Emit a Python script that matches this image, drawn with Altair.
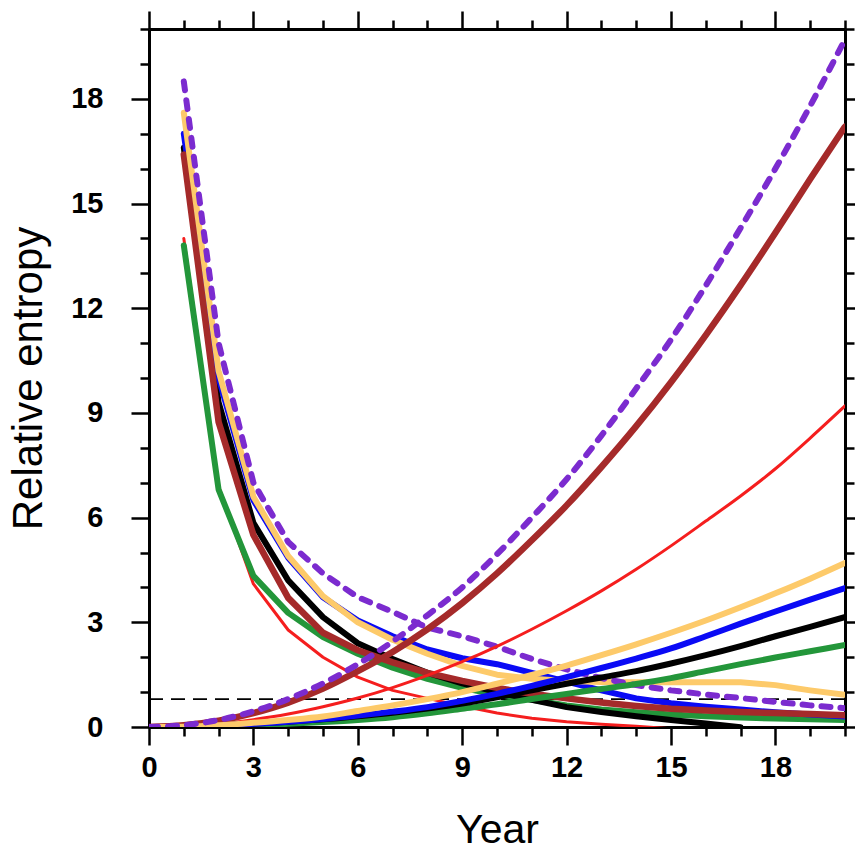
import altair as alt
import pandas as pd

years = list(range(21))

# Decreasing curves (no value at year 0)
dec_red    = [None, 14.0, 6.9, 4.1, 2.78, 2.0, 1.43, 1.05, 0.82, 0.6, 0.4, 0.25, 0.15, 0.08, 0.02, -0.05, None, None, None, None, None]
dec_green  = [None, 13.8, 6.8, 4.33, 3.27, 2.58, 2.1, 1.7, 1.38, 1.12, 0.92, 0.78, 0.62, 0.5, 0.42, 0.36, 0.31, 0.27, 0.24, 0.22, 0.2]
dec_black  = [None, 16.6, 9.3, 5.85, 4.2, 3.15, 2.4, 1.95, 1.55, 1.25, 1.0, 0.78, 0.57, 0.43, 0.31, 0.2, 0.1, -0.01, None, None, None]
dec_blue   = [None, 17.0, 10.0, 6.5, 4.85, 3.72, 3.05, 2.6, 2.22, 1.97, 1.8, 1.55, 1.3, 1.05, 0.82, 0.68, 0.58, 0.5, 0.42, 0.36, 0.3]
dec_brown  = [None, 16.4, 8.74, 5.5, 3.7, 2.7, 2.2, 1.85, 1.55, 1.32, 1.12, 0.95, 0.82, 0.7, 0.6, 0.52, 0.47, 0.43, 0.4, 0.37, 0.34]
dec_orange = [None, 17.6, 10.2, 6.6, 4.9, 3.75, 3.0, 2.5, 2.1, 1.75, 1.5, 1.38, 1.32, 1.29, 1.28, 1.28, 1.28, 1.28, 1.2, 1.05, 0.92]
dec_purple = [None, 18.5, 11.0, 7.0, 5.3, 4.4, 3.72, 3.3, 2.85, 2.6, 2.3, 1.95, 1.65, 1.4, 1.2, 1.05, 0.93, 0.83, 0.72, 0.62, 0.54]

# Increasing curves (from year 0)
inc_red    = [0, 0.02, 0.09, 0.21, 0.37, 0.58, 0.83, 1.13, 1.48, 1.87, 2.31, 2.8, 3.33, 3.9, 4.52, 5.19, 5.9, 6.62, 7.4, 8.28, 9.2]
inc_green  = [0, 0.0, 0.02, 0.05, 0.09, 0.14, 0.2, 0.28, 0.39, 0.52, 0.65, 0.8, 0.95, 1.09, 1.23, 1.4, 1.6, 1.8, 1.99, 2.17, 2.35]
inc_black  = [0, 0.01, 0.04, 0.09, 0.15, 0.22, 0.31, 0.41, 0.53, 0.67, 0.85, 1.05, 1.24, 1.42, 1.6, 1.82, 2.06, 2.32, 2.6, 2.87, 3.15]
inc_blue   = [0, 0.01, 0.04, 0.09, 0.15, 0.23, 0.33, 0.44, 0.57, 0.75, 0.95, 1.18, 1.43, 1.69, 1.96, 2.25, 2.6, 2.96, 3.31, 3.65, 3.98]
inc_brown  = [0, 0.05, 0.18, 0.4, 0.7, 1.1, 1.6, 2.15, 2.8, 3.55, 4.4, 5.35, 6.35, 7.45, 8.62, 9.88, 11.23, 12.66, 14.16, 15.7, 17.2]
inc_orange = [0, 0.01, 0.05, 0.12, 0.2, 0.3, 0.46, 0.62, 0.8, 1.0, 1.24, 1.49, 1.76, 2.06, 2.37, 2.7, 3.05, 3.43, 3.83, 4.25, 4.7]
inc_purple = [0, 0.05, 0.2, 0.45, 0.8, 1.25, 1.8, 2.45, 3.2, 4.0, 4.95, 6.0, 7.1, 8.35, 9.7, 11.1, 12.65, 14.3, 16.0, 17.8, 19.7]

threshold = [0.8]

styles = {
    "red":    dict(color="#F51E1E", strokeWidth=3),
    "green":  dict(color="#23963A", strokeWidth=6),
    "black":  dict(color="#000000", strokeWidth=6),
    "blue":   dict(color="#0A0AF5", strokeWidth=6),
    "brown":  dict(color="#A52A2A", strokeWidth=6.5),
    "orange": dict(color="#FDCA6A", strokeWidth=6),
    "purple": dict(color="#7B2BCF", strokeWidth=6, strokeDash=[9, 10]),
}

dec_series = [("red", dec_red), ("green", dec_green), ("black", dec_black), ("blue", dec_blue),
              ("brown", dec_brown), ("orange", dec_orange), ("purple", dec_purple)]
inc_series = [("red", inc_red), ("green", inc_green), ("black", inc_black), ("blue", inc_blue),
              ("brown", inc_brown), ("orange", inc_orange), ("purple", inc_purple)]

xscale = alt.Scale(domain=[0, 20], nice=False, zero=False)
yscale = alt.Scale(domain=[0, 20], nice=False, zero=False)

FONT = "Liberation Sans"
tick_cond = {"condition": {"test": "datum.value % 3 === 0", "value": 18}, "value": 9}
label_expr = "datum.value % 3 === 0 ? datum.label : ''"

common_axis = dict(
    values=list(range(0, 21)),
    domainColor="black", domainWidth=3,
    tickColor="black", tickWidth=2.5,
    grid=False, labelFlush=False, labelOverlap=False,
    labelFont=FONT, labelFontSize=29, labelFontWeight="bold", labelColor="black",
    titleFont=FONT, titleFontWeight="normal", titleColor="black",
)

x_bottom = alt.Axis(orient="bottom", title="Year", titleFontSize=41, labelExpr=label_expr,
                    tickSize=tick_cond, labelPadding=8, titlePadding=28, **common_axis)
y_left = alt.Axis(orient="left", title="Relative entropy", titleFontSize=42, labelExpr=label_expr,
                  tickSize=tick_cond, labelPadding=28, titlePadding=20, **common_axis)
x_top = alt.Axis(orient="top", title=None, labels=False, tickSize=tick_cond, **common_axis)
y_right = alt.Axis(orient="right", title=None, labels=False, tickSize=tick_cond, **common_axis)


def df_of(values):
    d = pd.DataFrame({"Year": years, "RE": values})
    return d.dropna()


axes_main = alt.Chart(df_of(inc_green)).mark_line(opacity=0).encode(
    x=alt.X("Year:Q", scale=xscale, axis=x_bottom),
    y=alt.Y("RE:Q", scale=yscale, axis=y_left),
)
axes_frame = alt.Chart(df_of(inc_green)).mark_line(opacity=0).encode(
    x=alt.X("Year:Q", scale=xscale, axis=x_top),
    y=alt.Y("RE:Q", scale=yscale, axis=y_right),
)

thr = alt.Chart(pd.DataFrame({"t": threshold})).mark_rule(
    color="black", strokeWidth=1.6, strokeDash=[14, 8]
).encode(y=alt.Y("t:Q", scale=yscale, axis=None))

layers = [axes_main, axes_frame, thr]
for kind, series in (("dec", dec_series), ("inc", inc_series)):
    interp = "linear" if kind == "dec" else "monotone"
    for name, vals in series:
        st = styles[name]
        layers.append(
            alt.Chart(df_of(vals)).mark_line(clip=True, strokeCap="round", strokeJoin="round",
                                             interpolate=interp, **st).encode(
                x=alt.X("Year:Q", scale=xscale, axis=None),
                y=alt.Y("RE:Q", scale=yscale, axis=None),
            )
        )

chart = alt.layer(*layers).resolve_axis(x="independent", y="independent").properties(
    width=696, height=698,
    autosize=alt.AutoSizeParams(type="none"),
    padding={"left": 149, "top": 29, "right": 10, "bottom": 127},
).configure_view(stroke=None).configure(background="white")

chart.save("out.html", embed_options={"renderer": "svg", "actions": False})
